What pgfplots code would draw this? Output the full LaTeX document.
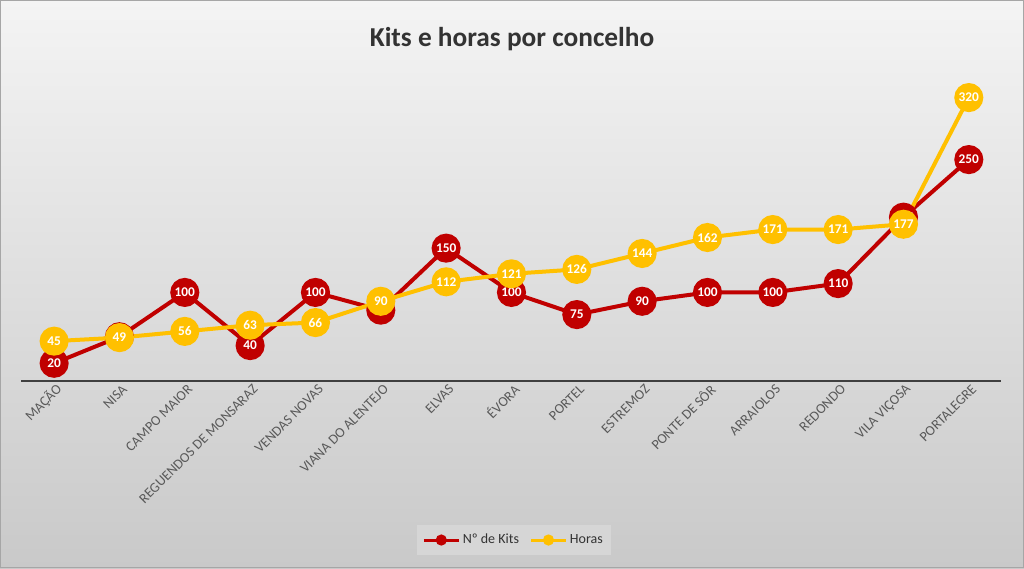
\documentclass[border=0pt]{standalone}
\usepackage{pgfplots}
\pgfplotsset{compat=1.18}
\usepackage{fontspec}
\setmainfont{Carlito}

\definecolor{kitred}{HTML}{C00000}
\definecolor{horagold}{HTML}{FFC000}
\definecolor{bgtop}{HTML}{F4F4F4}
\definecolor{bgbot}{HTML}{C9C9C9}
\definecolor{gridgray}{HTML}{A6A6A6}
\definecolor{labgray}{HTML}{595959}
\definecolor{titlegray}{HTML}{333333}
\definecolor{legbg}{HTML}{D6D6D6}

\begin{document}
\begin{tikzpicture}
% background of the chart area (1 px = 0.75pt)
\shade[top color=bgtop, bottom color=bgbot] (0,0) rectangle (768pt,426pt);
\draw[gray!70, line width=0.8pt] (0.4pt,0.4pt) rectangle (767.6pt,425.6pt);
\path[use as bounding box] (0,0) rectangle (768pt,426pt);

\node[font=\bfseries\fontsize{20.5}{24}\selectfont, text=titlegray] at (384pt,397pt) {Kits e horas por concelho};

\begin{axis}[
    at={(16.1pt,140.25pt)}, anchor=south west,
    scale only axis,
    width=735pt, height=232.5pt,
    xmin=-0.5, xmax=14.5,
    ymin=0, ymax=350,
    axis y line=none,
    axis x line*=bottom,
    x axis line style={line width=1.5pt, draw=black!75},
    xtick=data,
    xticklabels={MAÇÃO, NISA, CAMPO MAIOR, REGUENDOS DE MONSARAZ, VENDAS NOVAS, VIANA DO ALENTEJO, ELVAS, ÉVORA, PORTEL, ESTREMOZ, PONTE DE SÔR, ARRAIOLOS, REDONDO, VILA VIÇOSA, PORTALEGRE},
    xticklabel style={rotate=45, anchor=east, font=\fontsize{10.5}{12}\selectfont, text=labgray, yshift=-6pt, xshift=3pt},
    major tick length=0pt,
    ytick={50,100,...,350},
    ymajorgrids,
    grid style={gridgray, line width=0.8pt},
    clip=false,
    /pgf/number format/assume math mode=true,
    nodes near coords,
    every node near coord/.append style={anchor=center, text=white, font=\bfseries\fontsize{10}{11}\selectfont, inner sep=0pt},
    legend columns=2,
    legend style={at={(0.5026,-0.513)}, anchor=center, fill=legbg, draw=none,
        font=\fontsize{10.5}{12}\selectfont, text=titlegray, inner xsep=4pt, inner ysep=5pt,
        /tikz/every even column/.append style={column sep=6pt}},
    legend image code/.code={
        \draw[#1, mark=none, line width=2.2pt] (0pt,0pt) -- (26pt,0pt);
        \fill[#1] (13pt,0pt) circle (2.6pt);
    },
]
\addplot[color=kitred, line width=3pt, mark=*, mark size=9.4pt] coordinates {
    (0,20) (1,50) (2,100) (3,40) (4,100) (5,80) (6,150) (7,100)
    (8,75) (9,90) (10,100) (11,100) (12,110) (13,185) (14,250)
};
\addlegendentry{Nº de Kits}
\addplot[color=horagold, line width=3pt, mark=*, mark size=9.4pt] coordinates {
    (0,45) (1,49) (2,56) (3,63) (4,66) (5,90) (6,112) (7,121)
    (8,126) (9,144) (10,162) (11,171) (12,171) (13,177) (14,320)
};
\addlegendentry{Horas}
\end{axis}
\end{tikzpicture}
\end{document}
